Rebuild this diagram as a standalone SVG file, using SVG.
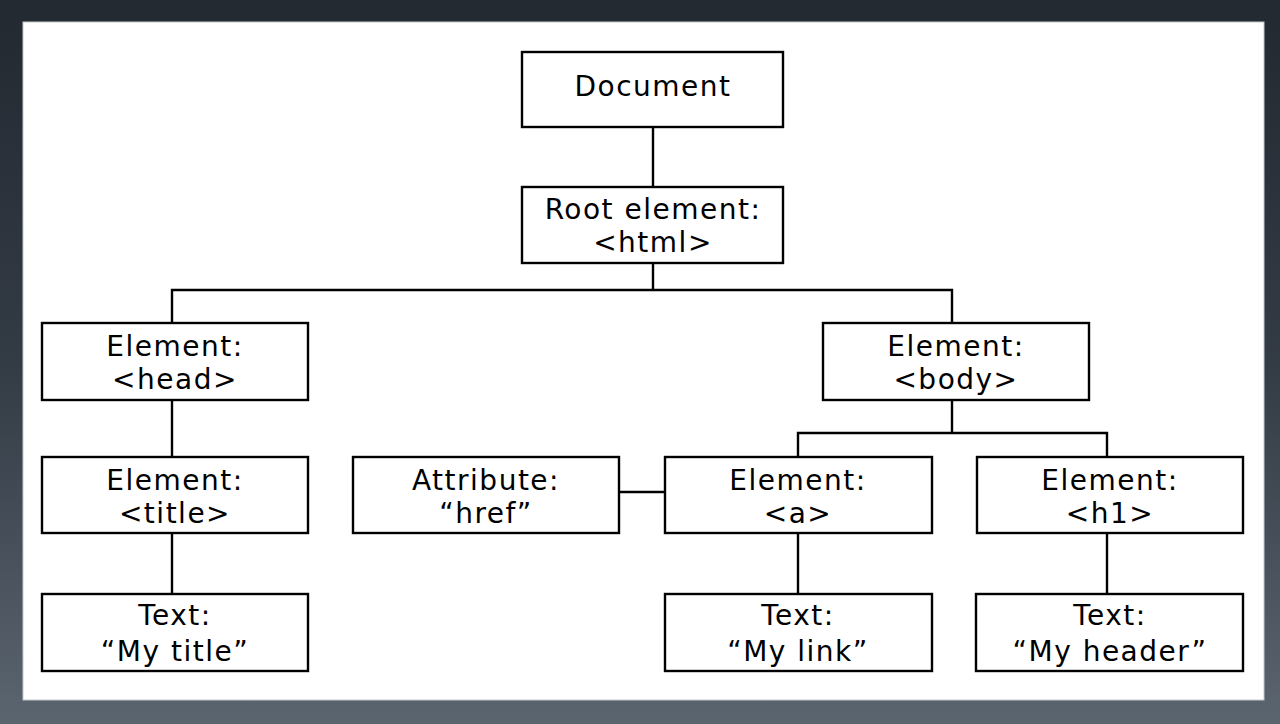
<svg xmlns="http://www.w3.org/2000/svg" width="1280" height="724" viewBox="0 0 1280 724">
<defs>
<linearGradient id="bg" x1="0" y1="0" x2="0" y2="1">
<stop offset="0" stop-color="#222931"/>
<stop offset="0.5" stop-color="#333b45"/>
<stop offset="1" stop-color="#5b656f"/>
</linearGradient>
<style>
.box{fill:#ffffff;stroke:#000000;stroke-width:2.4}
.lbl{font-family:"DejaVu Sans","Verdana",sans-serif;font-size:28px;letter-spacing:1.5px;fill:#000000;text-anchor:middle}
.edge{stroke:#000000;stroke-width:2.4;fill:none}
</style>
</defs>
<rect x="0" y="0" width="1280" height="724" fill="url(#bg)"/>
<rect x="23" y="22" width="1241" height="678" fill="#ffffff" stroke="#c4c8cc" stroke-width="1"/>
<g id="connectors">
<line class="edge" x1="653" y1="127" x2="653" y2="187"/>
<line class="edge" x1="653" y1="263" x2="653" y2="290"/>
<polyline class="edge" points="172,323 172,290 952,290 952,323"/>
<line class="edge" x1="172" y1="400" x2="172" y2="457"/>
<line class="edge" x1="172" y1="533" x2="172" y2="594"/>
<line class="edge" x1="952" y1="400" x2="952" y2="433"/>
<polyline class="edge" points="798,457 798,433 1107,433 1107,457"/>
<line class="edge" x1="619" y1="492" x2="665" y2="492"/>
<line class="edge" x1="798" y1="533" x2="798" y2="594"/>
<line class="edge" x1="1107" y1="533" x2="1107" y2="594"/>
</g>
<g id="document">
<rect class="box" x="522" y="52" width="261" height="75"/>
<text class="lbl" x="653" y="96">Document</text>
</g>
<g id="root">
<rect class="box" x="522" y="187" width="261" height="76"/>
<text class="lbl" x="653" y="219">Root element:</text>
<text class="lbl" x="653" y="252">&lt;html&gt;</text>
</g>
<g id="head">
<rect class="box" x="42" y="323" width="266" height="77"/>
<text class="lbl" x="175" y="356">Element:</text>
<text class="lbl" x="175" y="389">&lt;head&gt;</text>
</g>
<g id="body">
<rect class="box" x="823" y="323" width="266" height="77"/>
<text class="lbl" x="956" y="356">Element:</text>
<text class="lbl" x="956" y="389">&lt;body&gt;</text>
</g>
<g id="title">
<rect class="box" x="42" y="457" width="266" height="76"/>
<text class="lbl" x="175" y="490">Element:</text>
<text class="lbl" x="175" y="523">&lt;title&gt;</text>
</g>
<g id="attribute">
<rect class="box" x="353" y="457" width="266" height="76"/>
<text class="lbl" x="486" y="490">Attribute:</text>
<text class="lbl" x="486" y="523">“href”</text>
</g>
<g id="a">
<rect class="box" x="665" y="457" width="267" height="76"/>
<text class="lbl" x="798" y="490">Element:</text>
<text class="lbl" x="798" y="523">&lt;a&gt;</text>
</g>
<g id="h1">
<rect class="box" x="977" y="457" width="266" height="76"/>
<text class="lbl" x="1110" y="490">Element:</text>
<text class="lbl" x="1110" y="523">&lt;h1&gt;</text>
</g>
<g id="text-title">
<rect class="box" x="42" y="594" width="266" height="77"/>
<text class="lbl" x="175" y="625">Text:</text>
<text class="lbl" x="175" y="661">“My title”</text>
</g>
<g id="text-link">
<rect class="box" x="665" y="594" width="267" height="77"/>
<text class="lbl" x="798" y="625">Text:</text>
<text class="lbl" x="798" y="661">“My link”</text>
</g>
<g id="text-header">
<rect class="box" x="976" y="594" width="267" height="77"/>
<text class="lbl" x="1110" y="625">Text:</text>
<text class="lbl" x="1110" y="661">“My header”</text>
</g>
</svg>
